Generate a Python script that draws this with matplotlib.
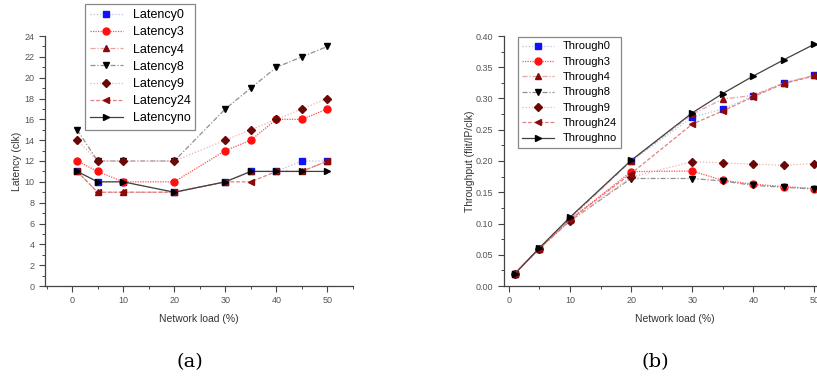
import matplotlib
matplotlib.use("Agg")
import matplotlib.pyplot as plt
from matplotlib.ticker import MultipleLocator

plt.rcParams["font.family"] = ["Liberation Sans", "DejaVu Sans"]

# network load (%)
load = [1, 5, 10, 20, 30, 35, 40, 45, 50]

# (a) latency (clk)
lat0 = [11, 10, 10, 9, 10, 11, 11, 12, 12]
lat3 = [12, 11, 10, 10, 13, 14, 16, 16, 17]
lat4 = [11, 9, 9, 9, 10, 11, 11, 11, 12]
lat8 = [15, 12, 12, 12, 17, 19, 21, 22, 23]
lat9 = [14, 12, 12, 12, 14, 15, 16, 17, 18]
lat24 = [11, 9, 9, 9, 10, 10, 11, 11, 12]
latno = [11, 10, 10, 9, 10, 11, 11, 11, 11]

# (b) throughput (flit/IP/clk)
thr0 = [0.020, 0.060, 0.108, 0.200, 0.270, 0.283, 0.304, 0.325, 0.337]
thr3 = [0.020, 0.060, 0.106, 0.183, 0.184, 0.169, 0.163, 0.159, 0.156]
thr4 = [0.020, 0.060, 0.108, 0.200, 0.275, 0.299, 0.305, 0.325, 0.337]
thr8 = [0.020, 0.060, 0.104, 0.172, 0.172, 0.168, 0.161, 0.158, 0.155]
thr9 = [0.020, 0.060, 0.104, 0.174, 0.199, 0.197, 0.195, 0.193, 0.196]
thr24 = [0.020, 0.060, 0.106, 0.180, 0.259, 0.280, 0.303, 0.324, 0.336]
thrno = [0.020, 0.061, 0.110, 0.201, 0.277, 0.308, 0.336, 0.362, 0.387]

# marker, marker size, marker colour, line colour, line style
styles = [
    ("s", 4.5, "#1010ff", "#b8c4dc", (0, (1, 1.5))),
    ("o", 5, "#ff1010", "#ff5050", (0, (1, 1))),
    ("^", 5, "#8a0a0a", "#e8a0a0", (0, (4, 1.5, 1, 1.5))),
    ("v", 5, "#000000", "#909090", (0, (4, 1.5, 1, 1.5))),
    ("D", 4, "#6a0808", "#f0b0b0", (0, (1, 1.5))),
    ("<", 5, "#8a0a0a", "#e08080", (0, (3, 1.5))),
    (">", 5, "#000000", "#404040", "-"),
]

fig = plt.figure(figsize=(8.17, 3.81), dpi=100)
W, H = 817, 381


def make_axes(x0, x1, y0, y1):
    return fig.add_axes([x0 / W, 1 - y1 / H, (x1 - x0) / W, (y1 - y0) / H])


def style_axes(ax):
    for s in ("top", "right"):
        ax.spines[s].set_visible(False)
    for s in ("left", "bottom"):
        ax.spines[s].set_color("#444444")
        ax.spines[s].set_linewidth(0.9)
    ax.tick_params(which="major", direction="out", length=4, width=0.8,
                   colors="#444444", labelsize=6.5, labelcolor="#555555")
    ax.tick_params(which="minor", direction="out", length=2, width=0.7,
                   colors="#444444")


def draw(ax, series, names):
    for ys, name, (m, ms, mc, lc, ls) in zip(series, names, styles):
        ax.plot(load, ys, color=lc, linestyle=ls, linewidth=0.9,
                marker=m, markersize=ms, markerfacecolor=mc,
                markeredgecolor=mc, label=name)


# (a) Latency
ax1 = make_axes(45, 353, 36, 286)
draw(ax1, [lat0, lat3, lat4, lat8, lat9, lat24, latno],
     ["Latency0", "Latency3", "Latency4", "Latency8", "Latency9",
      "Latency24", "Latencyno"])
ax1.set_xlim(-5.3, 55)
ax1.set_ylim(0, 24)
ax1.xaxis.set_major_locator(MultipleLocator(10))
ax1.xaxis.set_minor_locator(MultipleLocator(5))
ax1.yaxis.set_major_locator(MultipleLocator(2))
ax1.yaxis.set_minor_locator(MultipleLocator(1))
style_axes(ax1)
ax1.set_xlabel("Network load (%)", fontsize=7.5, color="#333333", labelpad=6)
ax1.set_ylabel("Latency (clk)", fontsize=7.5, color="#333333", labelpad=2)
leg1 = ax1.legend(loc="upper left", bbox_to_anchor=(85 / W, 1 - 4 / H),
                  bbox_transform=fig.transFigure, borderaxespad=0,
                  fontsize=9, handlelength=2.6, labelspacing=0.42,
                  fancybox=False, edgecolor="#888888", framealpha=1)
leg1.get_frame().set_linewidth(0.9)

# (b) Throughput
ax2 = make_axes(504, 845, 36, 286)
draw(ax2, [thr0, thr3, thr4, thr8, thr9, thr24, thrno],
     ["Through0", "Through3", "Through4", "Through8", "Through9",
      "Through24", "Throughno"])
ax2.set_xlim(-0.8, 55)
ax2.set_ylim(0, 0.40)
ax2.xaxis.set_major_locator(MultipleLocator(10))
ax2.xaxis.set_minor_locator(MultipleLocator(5))
ax2.yaxis.set_major_locator(MultipleLocator(0.05))
ax2.yaxis.set_minor_locator(MultipleLocator(0.025))
ax2.yaxis.set_major_formatter(plt.FormatStrFormatter("%.2f"))
style_axes(ax2)
ax2.set_xlabel("Network load (%)", fontsize=7.5, color="#333333", labelpad=6)
ax2.set_ylabel("Throughput (flit/IP/clk)", fontsize=7.5, color="#333333",
               labelpad=1)
leg2 = ax2.legend(loc="upper left", bbox_to_anchor=(518 / W, 1 - 37 / H),
                  bbox_transform=fig.transFigure, borderaxespad=0,
                  fontsize=8, handlelength=2.8, labelspacing=0.48,
                  fancybox=False, edgecolor="#888888", framealpha=1)
leg2.get_frame().set_linewidth(0.9)

# sub-figure captions
fig.text(190 / W, 1 - 362 / H, "(a)", fontsize=14, family="DejaVu Serif",
         ha="center", va="center")
fig.text(655 / W, 1 - 362 / H, "(b)", fontsize=14, family="DejaVu Serif",
         ha="center", va="center")

fig.savefig("out.png", dpi=100)
